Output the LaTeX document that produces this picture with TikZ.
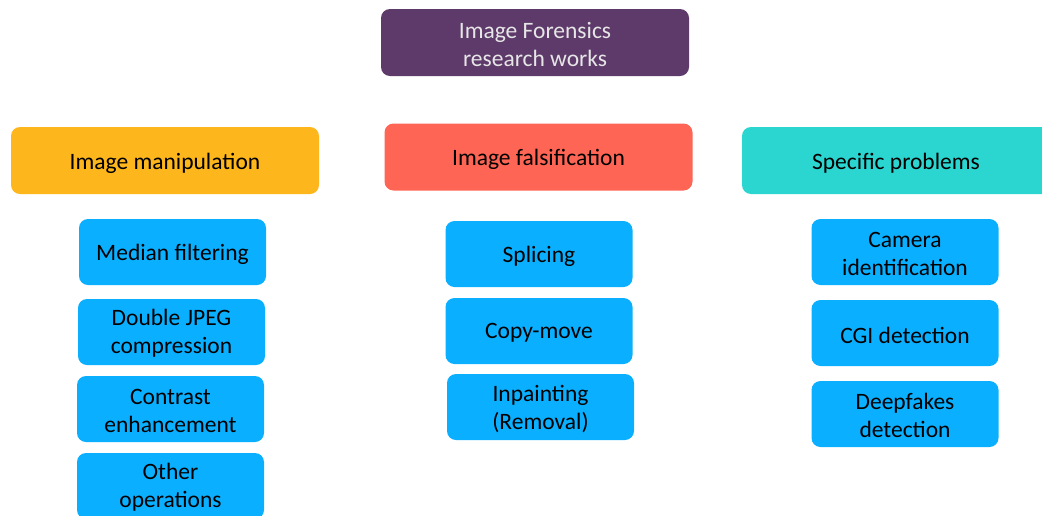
\documentclass[tikz,border=0pt]{standalone}
\usepackage{fontspec}
\setmainfont{Carlito}
\definecolor{topc}{HTML}{5E3A6B}
\definecolor{orangec}{HTML}{FDB61B}
\definecolor{redc}{HTML}{FF6555}
\definecolor{tealc}{HTML}{2BD6D0}
\definecolor{bluec}{HTML}{0AB0FF}
\definecolor{toptext}{HTML}{E6E6E6}
\tikzset{
  box/.style={rounded corners=9pt, inner sep=0pt},
  cat/.style={box, minimum width=308pt, minimum height=67pt},
  item/.style={box, fill=bluec, minimum width=187pt, minimum height=66pt},
  txt/.style={inner sep=0pt, align=center, font=\fontsize{23.5}{28}\selectfont, text=black},
}
\begin{document}
\begin{tikzpicture}[x=1pt,y=1pt]
\useasboundingbox (0,0) rectangle (1042,-515);
\clip (0,0) rectangle (1042,-515);
\node[box, fill=topc, minimum width=308pt, minimum height=67pt] (root) at (535,-42.5) {};
\node[txt, text=toptext] (root-t) at ([yshift=-1.5pt]root.center) {Image Forensics\\research works};
\node[cat, fill=orangec] (manip) at (165,-160.5) {};
\node[txt] (manip-t) at ([yshift=-2.5pt]manip.center) {Image manipulation};
\node[cat, fill=redc] (fals) at (538.5,-157) {};
\node[txt] (fals-t) at ([yshift=-2.5pt]fals.center) {Image falsification};
\node[cat, fill=tealc, minimum width=320pt] (spec) at (902,-160.5) {};
\node[txt] (spec-t) at (896,-163) {Specific problems};
\node[item] (median) at (172.5,-252) {};
\node[txt] (median-t) at ([yshift=-2pt]median.center) {Median filtering};
\node[item] (jpeg) at (171.5,-332) {};
\node[txt] (jpeg-t) at ([yshift=-1.5pt]jpeg.center) {Double JPEG\\compression};
\node[item] (contrast) at (170.5,-409) {};
\node[txt] (contrast-t) at ([yshift=-1.5pt]contrast.center) {Contrast\\enhancement};
\node[item] (other) at (170.5,-486) {};
\node[txt] (other-t) at ([yshift=-1.5pt]other.center) {Other\\operations};
\node[item] (splicing) at (539,-254) {};
\node[txt] (splicing-t) at ([yshift=-2pt]splicing.center) {Splicing};
\node[item] (copy) at (539,-331) {};
\node[txt] (copy-t) at ([yshift=-2pt]copy.center) {Copy-move};
\node[item] (inpaint) at (540.5,-407) {};
\node[txt] (inpaint-t) at ([yshift=-1.5pt]inpaint.center) {Inpainting\\(Removal)};
\node[item] (camera) at (905,-252) {};
\node[txt] (camera-t) at ([yshift=-1.5pt]camera.center) {Camera\\identification};
\node[item] (cgi) at (905,-333) {};
\node[txt] (cgi-t) at ([yshift=-2pt]cgi.center) {CGI detection};
\node[item] (deepfake) at (905,-414) {};
\node[txt] (deepfake-t) at ([yshift=-1.5pt]deepfake.center) {Deepfakes\\detection};
\end{tikzpicture}
\end{document}
